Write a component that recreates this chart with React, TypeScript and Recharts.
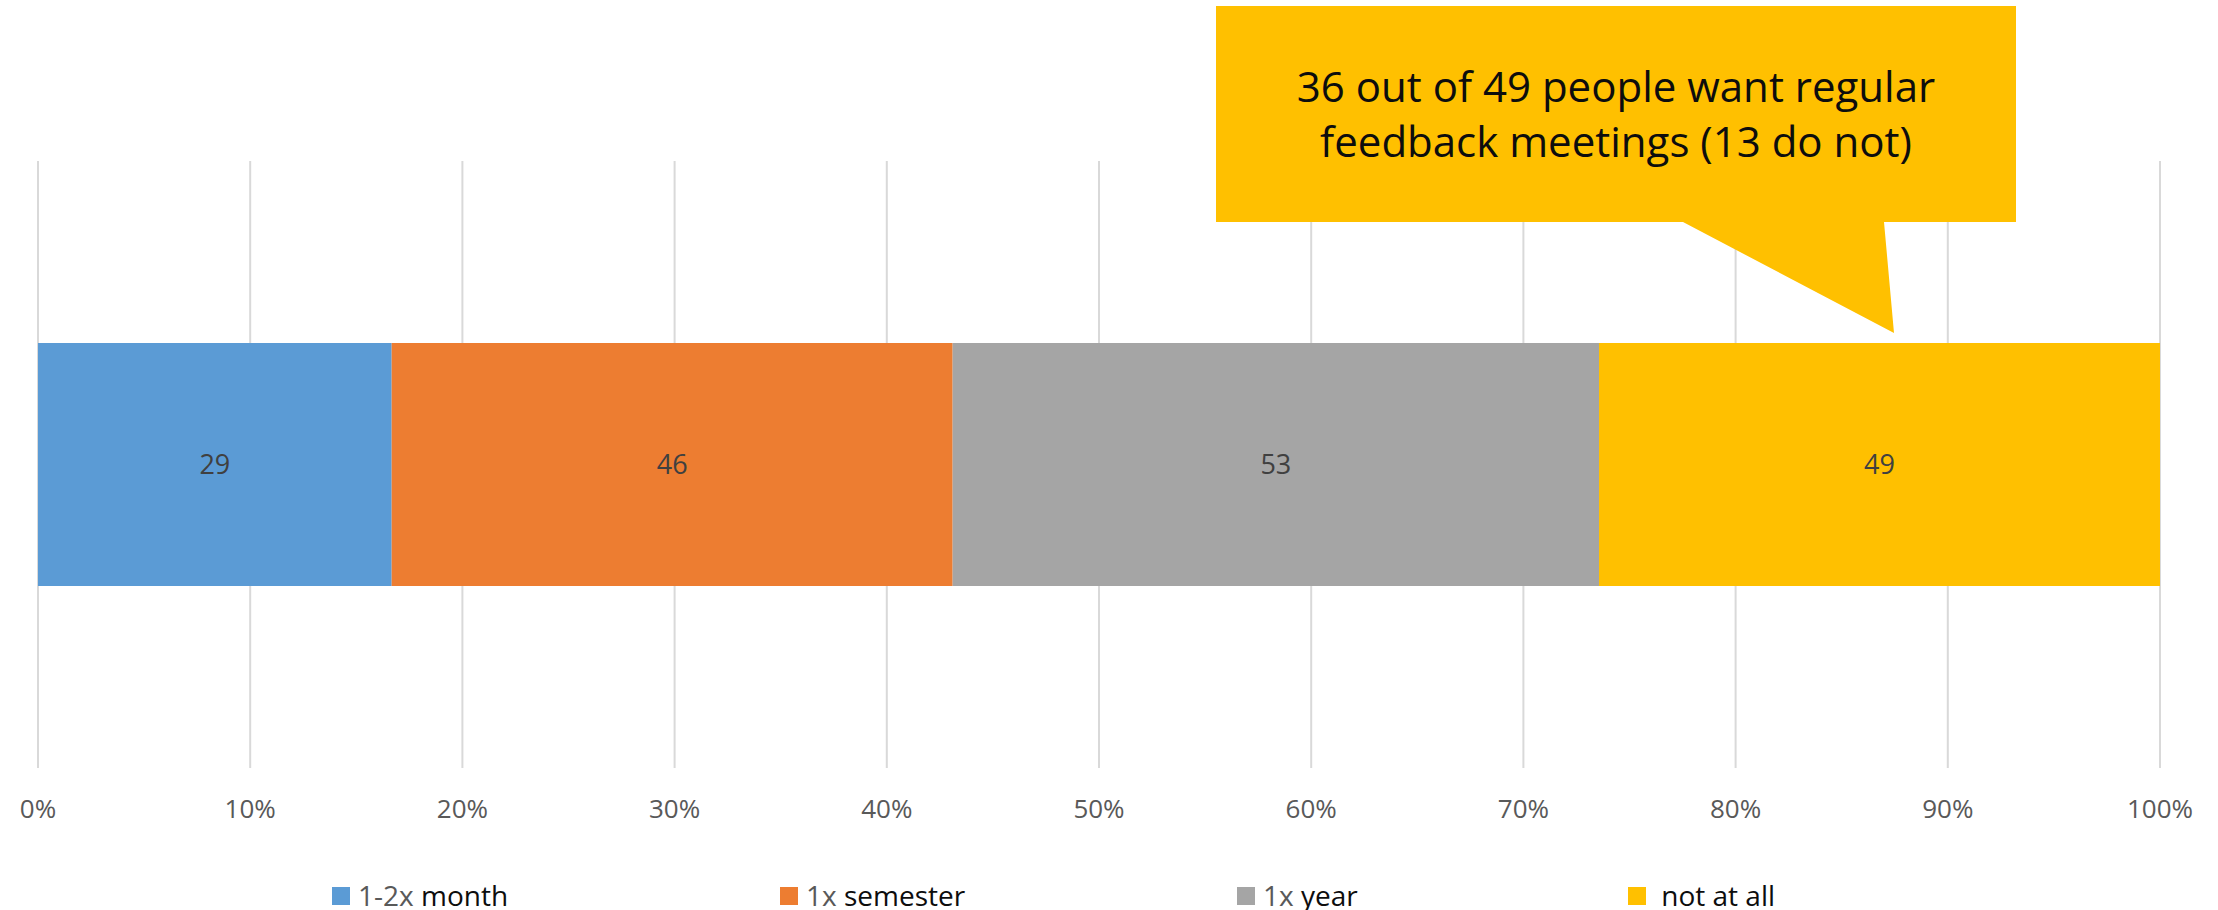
import { Bar, BarChart, CartesianGrid, LabelList, XAxis, YAxis } from "recharts";

// Survey answers: how often people want a feedback meeting.
const CATEGORIES = ["1-2x month", "1x semester", "1x year", "not at all"];
const SERIES_KEYS = ["month", "semester", "year", "never"];
// bar lengths as drawn (the last segment is drawn ~46 wide although it is labelled 49)
const VALUES = [29, 46, 53, 46];
const LABELS = ["29", "46", "53", "49"];
const COLORS = ["#5B9BD5", "#ED7D31", "#A5A5A5", "#FFC000"];
const TICKS = [0, 0.1, 0.2, 0.3, 0.4, 0.5, 0.6, 0.7, 0.8, 0.9, 1];
const LEGEND_PREFIX = ["1-2x", "1x", "1x", "\u00a0"];
const LEGEND_WORD = [" month", " semester", " year", "not at all"];
const CALLOUT_LINES = ["36 out of 49 people want regular", "feedback meetings (13 do not)"];

const W = 2218;
const H = 910;
const FONT = "'Open Sans', 'Noto Sans', sans-serif";
const PLOT_BOTTOM = 768;
const LEGEND_X = [332, 780, 1237, 1628];

const row: Record<string, number | string> = { name: "answers" };
SERIES_KEYS.forEach((k, i) => (row[k] = VALUES[i]));
const data = [row];

function PctTick(props: any) {
  const { x, payload } = props;
  return (
    <text x={x} y={PLOT_BOTTOM + 50} textAnchor="middle" fontSize={26} fill="#595959" fontFamily={FONT}>
      {`${Math.round(payload.value * 100)}%`}
    </text>
  );
}

const segLabel = (i: number) => (p: any) => {
  const { x, y, width, height } = p;
  return (
    <text
      x={Number(x) + Number(width) / 2}
      y={Number(y) + Number(height) / 2}
      dy="0.35em"
      textAnchor="middle"
      fontSize={27}
      fill="#404040"
      fontFamily={FONT}
    >
      {LABELS[i]}
    </text>
  );
};

export default function App() {
  return (
    <div style={{ position: "absolute", left: 0, top: 0, width: W, height: H, background: "#fff" }}>
      <BarChart
        width={W}
        height={H}
        layout="vertical"
        data={data}
        stackOffset="expand"
        margin={{ top: 161, right: 58, left: 38, bottom: H - PLOT_BOTTOM - 60 }}
      >
        <CartesianGrid horizontal={false} stroke="#d9d9d9" strokeWidth={2} />
        <XAxis
          type="number"
          domain={[0, 1]}
          ticks={TICKS}
          axisLine={false}
          tickLine={false}
          height={60}
          tick={<PctTick />}
          interval={0}
        />
        <YAxis type="category" dataKey="name" hide width={0} />
        {SERIES_KEYS.map((k, i) => (
          <Bar key={k} dataKey={k} name={CATEGORIES[i]} stackId="a" fill={COLORS[i]} barSize={243} isAnimationActive={false}>
            <LabelList dataKey={k} content={segLabel(i)} />
          </Bar>
        ))}
      </BarChart>

      <svg width={W} height={H} style={{ position: "absolute", left: 0, top: 0, pointerEvents: "none" }}>
        {/* callout box with its pointer down to the "not at all" segment */}
        <path d="M1216,6 H2016 V222 H1884 L1894,333 L1683,222 H1216 Z" fill="#FFC000" />
        {CALLOUT_LINES.map((t, i) => (
          <text key={i} x={1616} y={102 + i * 55} textAnchor="middle" fontSize={42} fill="#0d0d0d" fontFamily={FONT}>
            {t}
          </text>
        ))}

        {CATEGORIES.map((c, i) => (
          <g key={c}>
            <rect x={LEGEND_X[i]} y={887} width={18} height={18} fill={COLORS[i]} />
            <text x={LEGEND_X[i] + 26} y={906} fontSize={28} fontFamily={FONT}>
              <tspan fill="#595959">{LEGEND_PREFIX[i]}</tspan>
              <tspan fill="#0d0d0d">{LEGEND_WORD[i]}</tspan>
            </text>
          </g>
        ))}
      </svg>
    </div>
  );
}
